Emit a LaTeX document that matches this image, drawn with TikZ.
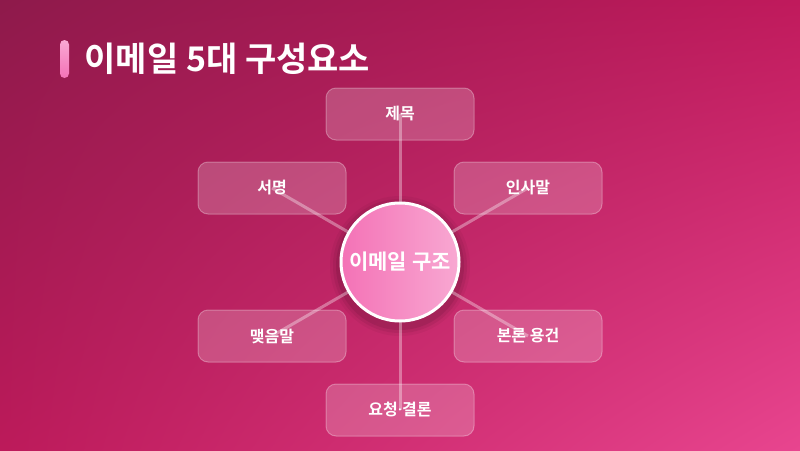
\documentclass[tikz,border=0pt]{standalone}
\usepackage{fontspec}
\setmainfont{Noto Sans CJK KR}[BoldFont={Noto Sans CJK KR Bold}]
\newfontfamily\dotfont{Noto Sans}
\usetikzlibrary{shadings}

\definecolor{bgTL}{HTML}{8E1A4B}
\definecolor{bgTR}{HTML}{C01A5C}
\definecolor{bgBL}{HTML}{BC1A5A}
\definecolor{bgBR}{HTML}{E8458F}
\definecolor{coreL}{HTML}{F472B6}
\definecolor{coreR}{HTML}{F8A8D2}
\definecolor{barT}{HTML}{F9A8D4}
\definecolor{barB}{HTML}{F472B6}

\pgfdeclarelayer{bg}
\pgfdeclarelayer{lines}
\pgfsetlayers{bg,lines,main}

\begin{document}
\begin{tikzpicture}[x=1pt, y=-1pt,
		part/.style={draw=white, draw opacity=0.3, fill=white, fill opacity=0.2, text opacity=1,
			text=white, rounded corners=10pt, minimum width=148pt, minimum height=52pt,
			line width=1pt, font=\bfseries\fontsize{16}{18}\selectfont},
		spoke/.style={white, opacity=0.35, line width=3pt}]
		% background
		\begin{pgfonlayer}{bg}
			\shade[upper left=bgTL, upper right=bgTR, lower left=bgBL, lower right=bgBR] (0,0) rectangle (800,450);
		\end{pgfonlayer}
		
		% title
		\shade[top color=barT, bottom color=barB, rounded corners=4.5pt] (60,40) rectangle (69,78);
		\node[anchor=west, text=white, font=\bfseries\fontsize{34}{38}\selectfont] (title) at (81,59) {이메일 5대 구성요소};
		
		% parts
		\node[part] (subject) at (400,114) {제목};
		\node[part] (sign) at (272,188) {서명};
		\node[part] (greet) at (528,188) {인사말};
		\node[part] (close) at (272,336) {맺음말};
		\node[part] (body) at (528,336) {본론 용건};
		\node[part] (request) at (400,410) {요청{\dotfont·}결론};
		
		% center
		\begin{pgfonlayer}{lines}
			\foreach \r/\o in {70/0.04, 67/0.06, 64/0.08}
				\fill[black, opacity=\o] (400,266) circle (\r);
		\end{pgfonlayer}
		\node[circle, minimum size=118pt, draw=white, line width=3pt, left color=coreL, right color=coreR,
			text=white, font=\bfseries\fontsize{21}{24}\selectfont] (core) at (400,262) {이메일 구조};
		
		% spokes
		\begin{pgfonlayer}{lines}
			\foreach \n in {subject, sign, greet, close, body, request}
				\draw[spoke] (core.center) -- (\n.center);
		\end{pgfonlayer}
	\end{tikzpicture}
\end{document}
